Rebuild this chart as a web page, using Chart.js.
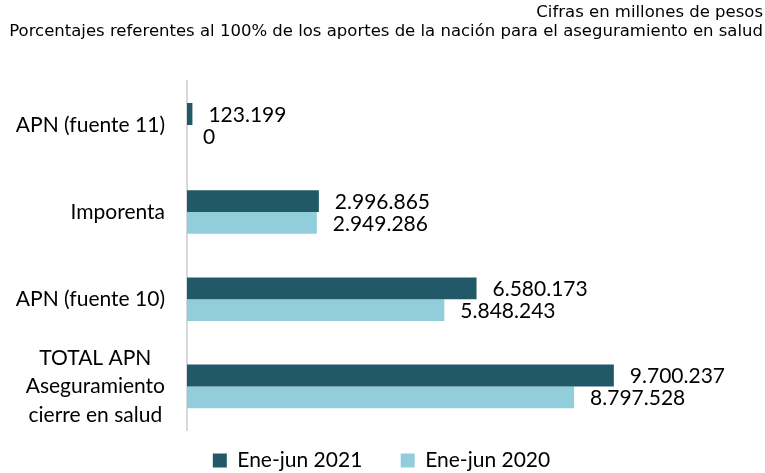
<!DOCTYPE html>
<html>
<head>
<meta charset="utf-8">
<script src="https://cdn.jsdelivr.net/npm/chart.js@4"></script>
<style>
  html, body { margin: 0; padding: 0; background: #fff; }
  #wrap { width: 765px; height: 473px; }
</style>
</head>
<body>
<div id="wrap"><canvas id="chart"></canvas></div>
<script>
// Valores de la figura, en millones de pesos.
const categories = [
    'APN (fuente 11)',
    'Imporenta',
    'APN (fuente 10)',
    ['TOTAL APN', 'Aseguramiento', 'cierre en salud']
];
const seriesNames = ['Ene-jun 2021', 'Ene-jun 2020'];
const values2021 = [123199, 2996865, 6580173, 9700237];
const values2020 = [0, 2949286, 5848243, 8797528];
const titleLines = [
    'Cifras en millones de pesos',
    'Porcentajes referentes al 100% de los aportes de la nación para el aseguramiento en salud'
];

const labelFont = 'Lato, "Liberation Sans", sans-serif';
const labelSize = 21;

function fmt(v) {
    return String(v).replace(/\B(?=(\d{3})+(?!\d))/g, '.');
}

// Value labels drawn just past the end of each bar.
const barValueLabels = {
    id: 'barValueLabels',
    afterDatasetsDraw(chart) {
        const ctx = chart.ctx;
        ctx.save();
        ctx.font = labelSize + 'px ' + labelFont;
        ctx.fillStyle = '#000';
        ctx.textAlign = 'left';
        ctx.textBaseline = 'middle';
        chart.data.datasets.forEach(function(ds, di) {
            chart.getDatasetMeta(di).data.forEach(function(bar, i) {
                ctx.fillText(fmt(ds.data[i]), bar.x + 16, bar.y + 1);
            });
        });
        ctx.restore();
    }
};

// Category labels: the block is right-aligned against the axis, but the
// lines of a wrapped label are centred on each other (as in the original).
const categoryLabels = {
    id: 'categoryLabels',
    afterDraw(chart) {
        const ctx = chart.ctx;
        const yScale = chart.scales.y;
        const right = chart.chartArea.left - 22;
        const lineH = 28.5;
        ctx.save();
        ctx.font = labelSize + 'px ' + labelFont;
        ctx.fillStyle = '#000';
        ctx.textAlign = 'center';
        ctx.textBaseline = 'middle';
        chart.data.labels.forEach(function(label, i) {
            const lines = Array.isArray(label) ? label : [label];
            const widest = Math.max.apply(null, lines.map(function(l) { return ctx.measureText(l).width; }));
            const cx = right - widest / 2;
            const cy = yScale.getPixelForValue(i);
            lines.forEach(function(l, k) {
                ctx.fillText(l, cx, cy + (k - (lines.length - 1) / 2) * lineH);
            });
        });
        ctx.restore();
    }
};

// Legend sits lower than Chart.js would put it: keep the large top padding
// but trim the box height so the plot area still reaches down to ~432px.
const legendHeight = {
    id: 'legendHeight',
    beforeInit(chart) {
        const fit = chart.legend.fit;
        chart.legend.fit = function() {
            fit.call(this);
            this.height = 43;
        };
    }
};

new Chart(document.getElementById('chart'), {
    type: 'bar',
    data: {
        labels: categories,
        datasets: [
            {
                label: seriesNames[0],
                data: values2021,
                backgroundColor: '#215968',
                categoryPercentage: 0.5,
                barPercentage: 1.0,
            },
            {
                label: seriesNames[1],
                data: values2020,
                backgroundColor: '#92CDDC',
                categoryPercentage: 0.5,
                barPercentage: 1.0,
            }
        ]
    },
    options: {
        indexAxis: 'y',
        responsive: true,
        maintainAspectRatio: false,
        animation: false,
        layout: { padding: { left: 0, right: 2, top: 0, bottom: 0 } },
        plugins: {
            title: {
                display: true,
                text: titleLines,
                align: 'end',
                color: '#000',
                font: { family: '"DejaVu Sans", Verdana, sans-serif', size: 16.5, weight: 'normal', lineHeight: 1.1 },
                padding: { top: 4, bottom: 41 }
            },
            legend: {
                position: 'bottom',
                labels: {
                    boxWidth: 14,
                    boxHeight: 14,
                    padding: 20,
                    color: '#000',
                    font: { family: labelFont, size: labelSize },
                    generateLabels: function(chart) {
                        const items = Chart.defaults.plugins.legend.labels.generateLabels(chart);
                        // extra gap between the two legend entries
                        items[0].text = items[0].text + '\u2003\u2009';
                        return items;
                    }
                }
            },
            tooltip: { enabled: false }
        },
        scales: {
            x: {
                display: false,
                min: 0,
                max: 13090000
            },
            y: {
                grid: { display: false },
                border: { display: true, color: '#d9d9d9', width: 2 },
                ticks: { display: false },
                afterFit: function(scale) { scale.width = 187; }
            }
        }
    },
    plugins: [barValueLabels, categoryLabels, legendHeight]
});
</script>
</body>
</html>
